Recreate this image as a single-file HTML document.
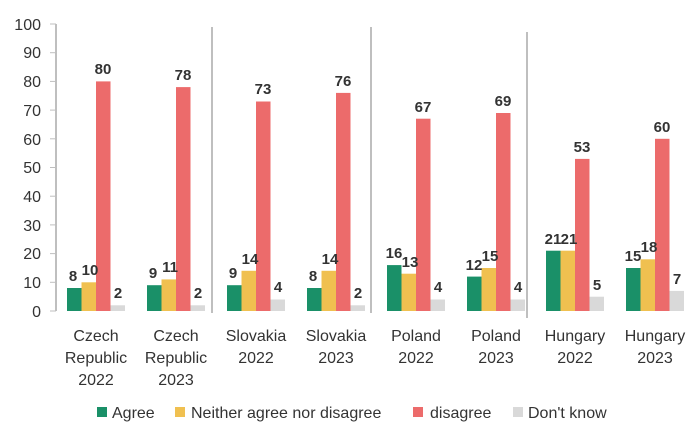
<!DOCTYPE html>
<html><head><style>body{margin:0;background:#fff}svg{display:block}text{font-family:"Liberation Sans",sans-serif}</style></head><body>
<svg width="700" height="434" xmlns="http://www.w3.org/2000/svg">
<g stroke="#bfbfbf" stroke-width="2">
<line x1="56" y1="24" x2="56" y2="311"/>
<line x1="212" y1="27" x2="212" y2="313"/>
<line x1="371" y1="27" x2="371" y2="313"/>
<line x1="527" y1="32" x2="527" y2="318"/>
</g>
<g stroke="#bfbfbf" stroke-width="1">
<line x1="50" y1="311" x2="56" y2="311"/><line x1="50" y1="282.3" x2="56" y2="282.3"/><line x1="50" y1="253.6" x2="56" y2="253.6"/><line x1="50" y1="224.9" x2="56" y2="224.9"/><line x1="50" y1="196.2" x2="56" y2="196.2"/><line x1="50" y1="167.5" x2="56" y2="167.5"/><line x1="50" y1="138.8" x2="56" y2="138.8"/><line x1="50" y1="110.1" x2="56" y2="110.1"/><line x1="50" y1="81.4" x2="56" y2="81.4"/><line x1="50" y1="52.7" x2="56" y2="52.7"/><line x1="50" y1="24" x2="56" y2="24"/>
</g>
<g font-size="16" fill="#333" text-anchor="end">
<text x="41" y="317">0</text><text x="41" y="288">10</text><text x="41" y="259">20</text><text x="41" y="231">30</text><text x="41" y="202">40</text><text x="41" y="173">50</text><text x="41" y="145">60</text><text x="41" y="116">70</text><text x="41" y="87">80</text><text x="41" y="58">90</text><text x="41" y="30">100</text>
</g>
<!-- bars -->
<g>
<rect x="67" y="288" width="14.5" height="23" fill="#1a9068"/><rect x="81.5" y="282.3" width="14.5" height="28.7" fill="#f0c050"/><rect x="96" y="81.4" width="14.5" height="229.6" fill="#ec6b6b"/><rect x="110.5" y="305.3" width="14.5" height="5.7" fill="#d9d9d9"/>
<rect x="147" y="285.2" width="14.5" height="25.8" fill="#1a9068"/><rect x="161.5" y="279.4" width="14.5" height="31.6" fill="#f0c050"/><rect x="176" y="87.1" width="14.5" height="223.9" fill="#ec6b6b"/><rect x="190.5" y="305.3" width="14.5" height="5.7" fill="#d9d9d9"/>
<rect x="227" y="285.2" width="14.5" height="25.8" fill="#1a9068"/><rect x="241.5" y="270.8" width="14.5" height="40.2" fill="#f0c050"/><rect x="256" y="101.5" width="14.5" height="209.5" fill="#ec6b6b"/><rect x="270.5" y="299.5" width="14.5" height="11.5" fill="#d9d9d9"/>
<rect x="307" y="288" width="14.5" height="23" fill="#1a9068"/><rect x="321.5" y="270.8" width="14.5" height="40.2" fill="#f0c050"/><rect x="336" y="92.9" width="14.5" height="218.1" fill="#ec6b6b"/><rect x="350.5" y="305.3" width="14.5" height="5.7" fill="#d9d9d9"/>
<rect x="387" y="265.1" width="14.5" height="45.9" fill="#1a9068"/><rect x="401.5" y="273.7" width="14.5" height="37.3" fill="#f0c050"/><rect x="416" y="118.7" width="14.5" height="192.3" fill="#ec6b6b"/><rect x="430.5" y="299.5" width="14.5" height="11.5" fill="#d9d9d9"/>
<rect x="467" y="276.6" width="14.5" height="34.4" fill="#1a9068"/><rect x="481.5" y="268" width="14.5" height="43" fill="#f0c050"/><rect x="496" y="113" width="14.5" height="198" fill="#ec6b6b"/><rect x="510.5" y="299.5" width="14.5" height="11.5" fill="#d9d9d9"/>
<rect x="546" y="250.7" width="14.5" height="60.3" fill="#1a9068"/><rect x="560.5" y="250.7" width="14.5" height="60.3" fill="#f0c050"/><rect x="575" y="158.9" width="14.5" height="152.1" fill="#ec6b6b"/><rect x="589.5" y="296.7" width="14.5" height="14.3" fill="#d9d9d9"/>
<rect x="626" y="268" width="14.5" height="43" fill="#1a9068"/><rect x="640.5" y="259.3" width="14.5" height="51.7" fill="#f0c050"/><rect x="655" y="138.8" width="14.5" height="172.2" fill="#ec6b6b"/><rect x="669.5" y="290.9" width="14.5" height="20.1" fill="#d9d9d9"/>
</g>
<g font-size="15" font-weight="bold" fill="#333" text-anchor="middle">
<text x="73" y="281">8</text><text x="90" y="275">10</text><text x="103" y="74">80</text><text x="118" y="298">2</text>
<text x="153" y="278">9</text><text x="170" y="272">11</text><text x="183" y="80">78</text><text x="198" y="298">2</text>
<text x="233" y="278">9</text><text x="250" y="264">14</text><text x="263" y="94">73</text><text x="278" y="292">4</text>
<text x="313" y="281">8</text><text x="330" y="264">14</text><text x="343" y="86">76</text><text x="358" y="298">2</text>
<text x="394" y="258">16</text><text x="410" y="267">13</text><text x="423" y="112">67</text><text x="438" y="292">4</text>
<text x="474" y="270">12</text><text x="490" y="261">15</text><text x="503" y="106">69</text><text x="518" y="292">4</text>
<text x="553" y="244">21</text><text x="569" y="244">21</text><text x="582" y="152">53</text><text x="597" y="290">5</text>
<text x="633" y="261">15</text><text x="649" y="252">18</text><text x="662" y="132">60</text><text x="677" y="284">7</text>
</g>
<g font-size="16" fill="#333" text-anchor="middle">
<text x="96" y="341">Czech</text><text x="96" y="363">Republic</text><text x="96" y="385">2022</text>
<text x="176" y="341">Czech</text><text x="176" y="363">Republic</text><text x="176" y="385">2023</text>
<text x="256" y="341">Slovakia</text><text x="256" y="363">2022</text>
<text x="336" y="341">Slovakia</text><text x="336" y="363">2023</text>
<text x="416" y="341">Poland</text><text x="416" y="363">2022</text>
<text x="496" y="341">Poland</text><text x="496" y="363">2023</text>
<text x="575" y="341">Hungary</text><text x="575" y="363">2022</text>
<text x="655" y="341">Hungary</text><text x="655" y="363">2023</text>
</g>
<g font-size="16" fill="#333">
<rect x="97" y="407" width="10" height="10" fill="#1a9068"/><text x="112" y="418">Agree</text>
<rect x="175" y="407" width="10" height="10" fill="#f0c050"/><text x="191" y="418">Neither agree nor disagree</text>
<rect x="413" y="407" width="10" height="10" fill="#ec6b6b"/><text x="430" y="418">disagree</text>
<rect x="513" y="407" width="10" height="10" fill="#d9d9d9"/><text x="528" y="418">Don't know</text>
</g>
</svg>
</body></html>
